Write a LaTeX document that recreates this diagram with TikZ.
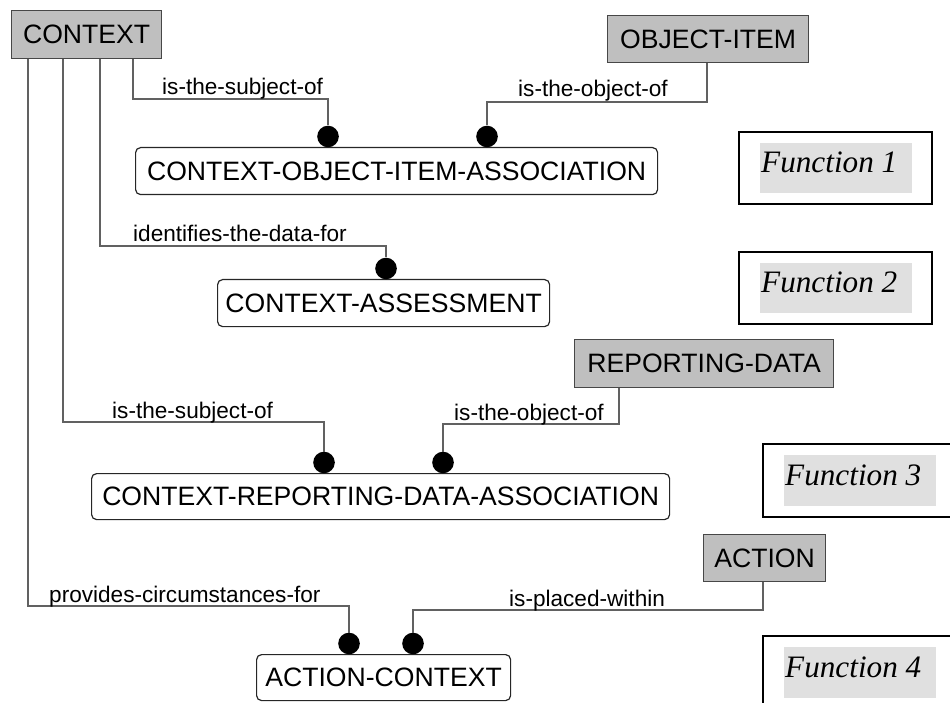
\documentclass[tikz,border=0pt]{standalone}
\usepackage{fontspec}
\setmainfont{Liberation Sans}
\newfontfamily\fnfont{Liberation Serif}
\begin{document}
\begin{tikzpicture}[x=1pt,y=-1pt,
  conn/.style={draw=black!62, line width=1.3pt},
  entity/.style={draw=black!72, fill=black!25, line width=1.2pt, inner sep=0pt,
    anchor=north west, font=\fontsize{26.6}{30}\selectfont},
  assoc/.style={draw=black!85, rounded corners=5pt, line width=1.2pt, inner sep=0pt,
    anchor=north west, font=\fontsize{26.6}{30}\selectfont},
  dot/.style={circle, fill=black, inner sep=0pt, minimum size=21.6pt},
  rel/.style={inner sep=0pt, anchor=base west, font=\fontsize{22.6}{26}\selectfont},
  fnbox/.style={draw=black, line width=2pt},
  fnback/.style={fill=black!12},
  fntext/.style={inner sep=0pt, anchor=base west, font=\fnfont\itshape\fontsize{31.2}{34}\selectfont}
]
\useasboundingbox (0,0) rectangle (950,703);
\clip (0,0) rectangle (950,703);

% kernel entities
\node[entity, minimum width=150pt, minimum height=48pt] (ctx) at (11,10) {CONTEXT};
\node[entity, minimum width=201pt, minimum height=47pt] (oi) at (607,15) {OBJECT-ITEM};
\node[entity, minimum width=259pt, minimum height=48pt] (rd) at (574,339) {REPORTING-DATA};
\node[entity, minimum width=122pt, minimum height=47pt] (act) at (703,534) {ACTION};

% associative entities
\node[assoc, minimum width=522pt, minimum height=47pt] (coia) at (135,147) {CONTEXT-OBJECT-ITEM-ASSOCIATION};
\node[assoc, minimum width=332pt, minimum height=47pt] (ca) at (217,279) {CONTEXT-ASSESSMENT};
\node[assoc, minimum width=578pt, minimum height=46pt] (crda) at (91,473) {CONTEXT-REPORTING-DATA-ASSOCIATION};
\node[assoc, minimum width=254pt, minimum height=46pt] (ac) at (256,654) {ACTION-CONTEXT};

% cardinality dots
\node[dot] (d1) at (328,136.5) {};
\node[dot] (d2) at (487,136.5) {};
\node[dot] (d3) at (386,268.5) {};
\node[dot] (d4) at (324,462.5) {};
\node[dot] (d5) at (443,462.5) {};
\node[dot] (d6) at (349,643.5) {};
\node[dot] (d7) at (413,643.5) {};

% elbow points of the relationship lines
\coordinate (c1) at (133,99);
\coordinate (c2) at (707,102);
\coordinate (c3) at (100,246);
\coordinate (c4) at (63,422);
\coordinate (c5) at (619,424);
\coordinate (c6) at (28,606);
\coordinate (c7) at (763,610);

% relationships
\draw[conn] (c1 |- ctx.south) -- (c1) -| (d1);
\draw[conn] (c2 |- oi.south) -- (c2) -| (d2);
\draw[conn] (c3 |- ctx.south) -- (c3) -| (d3);
\draw[conn] (c4 |- ctx.south) -- (c4) -| (d4);
\draw[conn] (c5 |- rd.south) -- (c5) -| (d5);
\draw[conn] (c6 |- ctx.south) -- (c6) -| (d6);
\draw[conn] (c7 |- act.south) -- (c7) -| (d7);

% relationship names
\node[rel] (r1) at (162,95) {is-the-subject-of};
\node[rel] (r2) at (518,97) {is-the-object-of};
\node[rel] (r3) at (133,242) {identifies-the-data-for};
\node[rel] (r4) at (112,418) {is-the-subject-of};
\node[rel] (r5) at (454,420) {is-the-object-of};
\node[rel] (r6) at (49,602) {provides-circumstances-for};
\node[rel] (r7) at (509,606) {is-placed-within};

% function panels
\draw[fnbox] (739,132) rectangle (932,204);
\fill[fnback] (760,143) rectangle (912,193);
\node[fntext] (f1) at (761,173) {Function 1};

\draw[fnbox] (739,252) rectangle (932,324);
\fill[fnback] (760,263) rectangle (912,313);
\node[fntext] (f2) at (761,293) {Function 2};

\draw[fnbox] (763,444) rectangle (960,517);
\fill[fnback] (784,455) rectangle (936,506);
\node[fntext] (f3) at (785,485) {Function 3};

\draw[fnbox] (763,636) rectangle (960,720);
\fill[fnback] (784,647) rectangle (936,698);
\node[fntext] (f4) at (785,677) {Function 4};
\end{tikzpicture}
\end{document}
